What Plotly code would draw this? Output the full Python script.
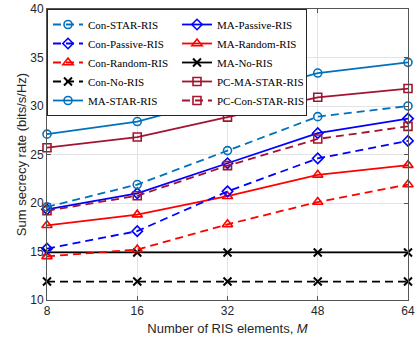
import plotly.graph_objects as go

# Number of RIS elements (evenly spaced categories on the x axis)
M_labels = ["8", "16", "32", "48", "64"]

# Sum secrecy rate (bits/s/Hz) for each scheme
con_star = [19.6, 21.9, 25.4, 28.9, 30.0]
con_passive = [15.3, 17.1, 21.2, 24.6, 26.4]
con_random = [14.5, 15.2, 17.8, 20.1, 21.9]
con_no = [11.9, 11.9, 11.9, 11.9, 11.9]
ma_star = [27.1, 28.4, 30.9, 33.4, 34.5]
ma_passive = [19.35, 21.0, 24.1, 27.2, 28.7]
ma_random = [17.7, 18.8, 20.7, 22.9, 23.9]
ma_no = [14.9, 14.9, 14.9, 14.9, 14.9]
pc_ma_star = [25.7, 26.8, 28.85, 30.9, 31.8]
pc_con_star = [19.2, 20.75, 23.85, 26.6, 27.9]

C_STAR = "#0072BD"
C_PASSIVE = "#0000FF"
C_RANDOM = "#FF0000"
C_NO = "#000000"
C_PC = "#A2142F"
DASH = "8px,5px"

# (name, values, colour, marker symbol, dashed?, legend rank)
# Odd ranks fill the left legend column, even ranks the right one.
series = [
    ("Con-No-RIS", con_no, C_NO, "x-thin-open", True, 7),
    ("MA-No-RIS", ma_no, C_NO, "x-thin-open", False, 6),
    ("Con-Random-RIS", con_random, C_RANDOM, "triangle-up-open", True, 5),
    ("MA-Random-RIS", ma_random, C_RANDOM, "triangle-up-open", False, 4),
    ("Con-Passive-RIS", con_passive, C_PASSIVE, "diamond-open", True, 3),
    ("MA-Passive-RIS", ma_passive, C_PASSIVE, "diamond-open", False, 2),
    ("PC-Con-STAR-RIS", pc_con_star, C_PC, "square-open", True, 10),
    ("PC-MA-STAR-RIS", pc_ma_star, C_PC, "square-open", False, 8),
    ("Con-STAR-RIS", con_star, C_STAR, "circle-open", True, 1),
    ("MA-STAR-RIS", ma_star, C_STAR, "circle-open", False, 9),
]

fig = go.Figure()
for name, vals, col, sym, dashed, rank in series:
    size = 9 if sym == "triangle-up-open" else 8
    fig.add_trace(go.Scatter(
        x=M_labels, y=vals, name=name, mode="lines+markers",
        line=dict(color=col, width=1.8, dash=DASH if dashed else "solid"),
        marker=dict(symbol=sym, size=size, color=col,
                    line=dict(color=col, width=2 if sym == "x-thin-open" else 1.6)),
        cliponaxis=False, legendrank=rank,
    ))

axis_col = "#262626"
fig.update_layout(
    width=417, height=339,
    margin=dict(l=47, r=2, t=9, b=39),
    paper_bgcolor="white", plot_bgcolor="white",
    font=dict(family="Liberation Sans, Arial, sans-serif", size=12, color=axis_col),
    showlegend=True,
    legend=dict(
        orientation="h", x=0, y=1, xanchor="left", yanchor="top",
        entrywidth=84, entrywidthmode="pixels",
        bgcolor="white", bordercolor=axis_col, borderwidth=1,
        font=dict(family="Liberation Serif, Times New Roman, serif", size=11, color="#000000"),
        tracegroupgap=0,
    ),
    xaxis=dict(
        type="category", categoryorder="array", categoryarray=M_labels,
        range=[0, 4], showline=True, linecolor="#555555", linewidth=1,
        mirror="ticks", ticks="inside", ticklen=4, tickcolor="#555555",
        showgrid=True, gridcolor="#e3e3e3", gridwidth=1,
        tickfont=dict(size=12, color=axis_col),
        title=dict(text="Number of RIS elements, <i>M</i>", font=dict(size=13, color=axis_col), standoff=6),
        zeroline=False,
    ),
    yaxis=dict(
        range=[10, 40], dtick=5, showline=True, linecolor="#555555", linewidth=1,
        mirror="ticks", ticks="inside", ticklen=4, tickcolor="#555555",
        showgrid=True, gridcolor="#e3e3e3", gridwidth=1,
        tickfont=dict(size=12, color=axis_col),
        title=dict(text="Sum secrecy rate (bits/s/Hz)", font=dict(size=13, color=axis_col), standoff=0),
        zeroline=False, automargin=True,
    ),
)

fig.write_html("out.html")
